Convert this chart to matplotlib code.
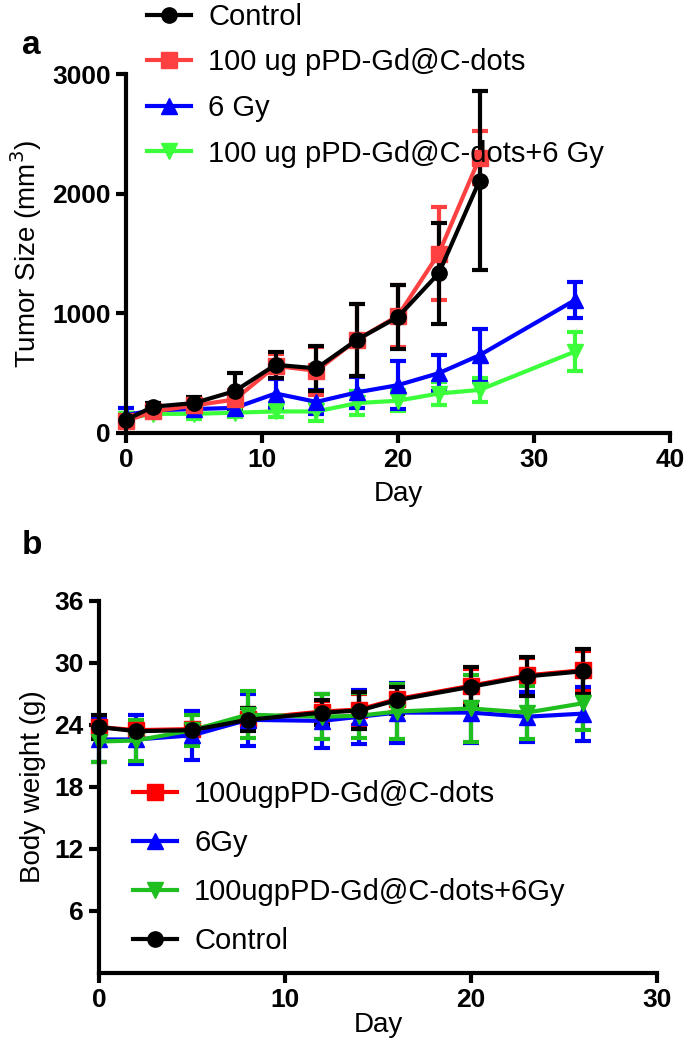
import numpy as np
import matplotlib.pyplot as plt

plt.rcParams['font.family'] = ['Liberation Sans', 'DejaVu Sans']

# ---- panel a: tumor size ----
days_a_ctrl = [0, 2, 5, 8, 11, 14, 17, 20, 23, 26]
days_a_rt = [0, 2, 5, 8, 11, 14, 17, 20, 23, 26, 33]

ctrl_a = [110, 220, 250, 350, 570, 540, 780, 970, 1335, 2110]
ctrl_a_err = [40, 30, 50, 150, 110, 190, 300, 270, 420, 750]
cdots_a = [100, 180, 230, 280, 560, 520, 780, 980, 1500, 2300]
cdots_a_err = [50, 40, 60, 80, 100, 200, 300, 260, 390, 220]
gy_a = [150, 190, 200, 210, 330, 260, 340, 400, 500, 650, 1110]
gy_a_err = [60, 30, 30, 40, 120, 100, 130, 200, 150, 220, 150]
combo_a = [120, 160, 160, 170, 180, 180, 250, 270, 330, 360, 680]
combo_a_err = [40, 30, 40, 40, 50, 80, 100, 90, 100, 100, 160]

# ---- panel b: body weight ----
days_b = [0, 2, 5, 8, 12, 14, 16, 20, 23, 26]
ctrl_b = [23.8, 23.4, 23.5, 24.5, 25.2, 25.4, 26.4, 27.7, 28.7, 29.2]
ctrl_b_err = [1.2, 0.5, 0.6, 1.1, 1.2, 1.8, 1.3, 1.9, 1.9, 2.2]
cdots_b = [23.8, 23.5, 23.6, 24.6, 25.3, 25.5, 26.5, 27.8, 28.8, 29.3]
cdots_b_err = [1.0, 0.6, 0.5, 1.0, 1.0, 1.5, 1.2, 1.6, 1.7, 1.9]
gy_b = [22.6, 22.6, 23.0, 24.5, 24.4, 24.8, 25.2, 25.2, 24.8, 25.1]
gy_b_err = [2.2, 2.4, 2.4, 2.5, 2.6, 2.6, 2.9, 2.9, 2.4, 2.6]
combo_b = [22.4, 22.5, 23.5, 25.0, 24.8, 24.9, 25.3, 25.6, 25.2, 26.1]
combo_b_err = [2.0, 2.0, 1.5, 2.3, 2.2, 2.2, 2.7, 3.2, 2.6, 2.6]

W, H = 685, 1051
fig = plt.figure(figsize=(W / 100, H / 100), dpi=100)


def axes_px(x0, y_top, x1, y_bot):
    return fig.add_axes([x0 / W, 1 - y_bot / H, (x1 - x0) / W, (y_bot - y_top) / H])


def style(ax):
    for s in ('top', 'right'):
        ax.spines[s].set_visible(False)
    for s in ('left', 'bottom'):
        ax.spines[s].set_linewidth(3)
    ax.tick_params(width=3, length=7, labelsize=19, direction='out', pad=4)
    for lab in ax.get_xticklabels() + ax.get_yticklabels():
        lab.set_fontweight('bold')


def series(ax, x, y, e, color, marker, label, ms=11):
    h = ax.errorbar(x, y, yerr=e, color=color, marker=marker, ms=ms, lw=3,
                    elinewidth=3, capsize=6, capthick=3, label=label,
                    clip_on=False)
    return h[0]


# panel a
ax1 = axes_px(126, 74, 670, 433)
h_combo = series(ax1, days_a_rt, combo_a, combo_a_err, '#3cff3c', 'v', '100 ug pPD-Gd@C-dots+6 Gy')
h_gy = series(ax1, days_a_rt, gy_a, gy_a_err, '#0000ff', '^', '6 Gy')
h_cd = series(ax1, days_a_ctrl, cdots_a, cdots_a_err, '#ff4040', 's', '100 ug pPD-Gd@C-dots')
h_ct = series(ax1, days_a_ctrl, ctrl_a, ctrl_a_err, '#000000', 'o', 'Control')
ax1.set_xlim(0, 40)
ax1.set_ylim(0, 3000)
ax1.set_xticks([0, 10, 20, 30, 40])
ax1.set_yticks([0, 1000, 2000, 3000])
style(ax1)
ax1.set_xlabel('Day', fontsize=20, labelpad=6)
ax1.set_ylabel('Tumor Size (mm$^3$)', fontsize=20, labelpad=6)
ax1.legend([h_ct, h_cd, h_gy, h_combo],
           ['Control', '100 ug pPD-Gd@C-dots', '6 Gy', '100 ug pPD-Gd@C-dots+6 Gy'],
           loc='upper left', bbox_to_anchor=(147 / W, 1 - 3 / H), bbox_transform=fig.transFigure,
           frameon=False, fontsize=21, handlelength=1.5, labelspacing=0.6,
           borderaxespad=0, borderpad=0.0, handletextpad=0.6)

# panel b
ax2 = axes_px(99, 601, 657, 973)
h_cd2 = series(ax2, days_b, cdots_b, cdots_b_err, '#ff0000', 's', '100ugpPD-Gd@C-dots')
h_gy2 = series(ax2, days_b, gy_b, gy_b_err, '#0000ff', '^', '6Gy')
h_co2 = series(ax2, days_b, combo_b, combo_b_err, '#1fbf1f', 'v', '100ugpPD-Gd@C-dots+6Gy')
h_ct2 = series(ax2, days_b, ctrl_b, ctrl_b_err, '#000000', 'o', 'Control')
ax2.set_xlim(0, 30)
ax2.set_ylim(0, 36)
ax2.set_xticks([0, 10, 20, 30])
ax2.set_yticks([6, 12, 18, 24, 30, 36])
style(ax2)
ax2.set_xlabel('Day', fontsize=20, labelpad=0)
ax2.set_ylabel('Body weight (g)', fontsize=20, labelpad=6)
ax2.legend([h_cd2, h_gy2, h_co2, h_ct2],
           ['100ugpPD-Gd@C-dots', '6Gy', '100ugpPD-Gd@C-dots+6Gy', 'Control'],
           loc='upper left', bbox_to_anchor=(133 / W, 1 - 780 / H), bbox_transform=fig.transFigure,
           frameon=False, fontsize=21, handlelength=1.5, labelspacing=0.72,
           borderaxespad=0, borderpad=0.0, handletextpad=0.6)

fig.text(22 / W, 1 - 45 / H, 'a', fontsize=24, fontweight='bold', va='center')
fig.text(22 / W, 1 - 545 / H, 'b', fontsize=24, fontweight='bold', va='center')

fig.savefig('out.png', dpi=100)
